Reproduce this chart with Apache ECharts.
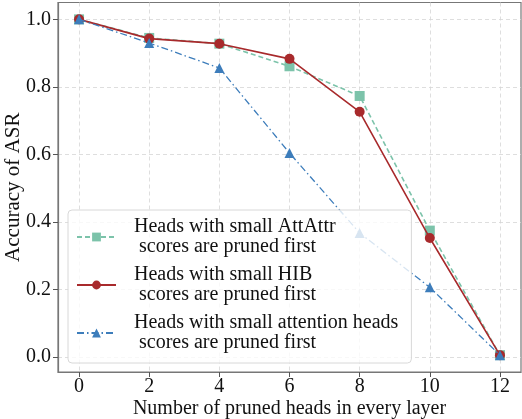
<!DOCTYPE html>
<html>
<head>
<meta charset="utf-8">
<script src="https://cdn.jsdelivr.net/npm/echarts@6/dist/echarts.min.js"></script>
<style>
  html, body { margin: 0; padding: 0; background: #fff; }
  #main { width: 522px; height: 419px; }
</style>
</head>
<body>
<div id="main"></div>
<script>
// pruned heads per layer
var prunedHeads = [0, 2, 4, 6, 8, 10, 12];
var xTicks = [0, 2, 4, 6, 8, 10, 12];
var yTicks = [0, 0.2, 0.4, 0.6, 0.8, 1.0];

var attAttr = [1.0, 0.945, 0.928, 0.861, 0.773, 0.374, 0.005];
var hib = [1.0, 0.943, 0.928, 0.883, 0.726, 0.352, 0.005];
var attnHeads = [1.0, 0.930, 0.856, 0.604, 0.367, 0.206, 0.005];

var names = [
  'Heads with small AttAttr\n scores are pruned first',
  'Heads with small HIB\n scores are pruned first',
  'Heads with small attention heads\n scores are pruned first'
];

function pairs(ys) {
  return prunedHeads.map(function (x, i) { return [x, ys[i]]; });
}

var font = 'Liberation Serif';
var chart = echarts.init(document.getElementById('main'));

var option = {
  animation: false,
  textStyle: { fontFamily: font },
  grid: {
    left: 58, right: 1, top: 2.5, bottom: 47,
    outerBoundsMode: 'none',
    containLabel: false,
    show: true, borderColor: '#777', borderWidth: 1.2
  },
  xAxis: {
    type: 'value',
    min: -0.6, max: 12.6,
    name: 'Number of pruned heads in every layer',
    nameLocation: 'middle',
    nameMoveOverlap: false,
    nameGap: 26.5,
    nameTextStyle: { fontSize: 20, color: '#111', fontFamily: font },
    axisLine: { onZero: false, lineStyle: { color: '#777', width: 1.2 } },
    axisTick: { show: true, length: 5, customValues: xTicks, lineStyle: { color: '#555' } },
    axisLabel: { customValues: xTicks, fontSize: 20, color: '#111', margin: 5, fontFamily: font },
    splitLine: { show: true, customValues: xTicks, lineStyle: { color: '#d6d6d6', type: [4, 3], width: 0.8 } }
  },
  yAxis: {
    type: 'value',
    min: -0.045, max: 1.05,
    name: 'Accuracy of ASR',
    nameLocation: 'middle',
    nameMoveOverlap: false,
    nameGap: 34,
    nameTextStyle: { fontSize: 21, color: '#111', fontFamily: font },
    axisLine: { show: true, onZero: false, lineStyle: { color: '#777', width: 1.2 } },
    axisTick: { show: true, length: 5, customValues: yTicks, lineStyle: { color: '#555' } },
    axisLabel: {
      customValues: yTicks, fontSize: 20, color: '#111', margin: 7, fontFamily: font,
      formatter: function (v) { return v.toFixed(1); }
    },
    splitLine: { show: true, customValues: yTicks, lineStyle: { color: '#d6d6d6', type: [4, 3], width: 0.8 } }
  },
  legend: {
    orient: 'vertical',
    left: 68, top: 210,
    z: 10,
    padding: [7, 13, 10, 8],
    itemGap: 8,
    itemWidth: 39,
    itemHeight: 11,
    backgroundColor: 'rgba(255,255,255,0.8)',
    borderColor: '#d8d8d8',
    borderWidth: 1,
    borderRadius: 4,
    textStyle: {
      fontSize: 20, lineHeight: 20, color: '#111', fontFamily: font,
      padding: [0, 0, 0, 13]
    },
    data: names
  },
  series: [
    {
      name: names[0], type: 'line', data: pairs(attAttr),
      symbol: 'rect', symbolSize: 10,
      itemStyle: { color: '#7cc3aa' },
      lineStyle: { color: '#7cc3aa', width: 1.6, type: [5, 3] },
      z: 3
    },
    {
      name: names[1], type: 'line', data: pairs(hib),
      symbol: 'circle', symbolSize: 10,
      itemStyle: { color: '#a82a2c' },
      lineStyle: { color: '#a82a2c', width: 1.6 },
      z: 4
    },
    {
      name: names[2], type: 'line', data: pairs(attnHeads),
      symbol: 'triangle', symbolSize: 10,
      itemStyle: { color: '#3d7dbb' },
      lineStyle: { color: '#3d7dbb', width: 1.3, type: [7, 3, 1.5, 3] },
      z: 5
    }
  ]
};

chart.setOption(option);
</script>
</body>
</html>
